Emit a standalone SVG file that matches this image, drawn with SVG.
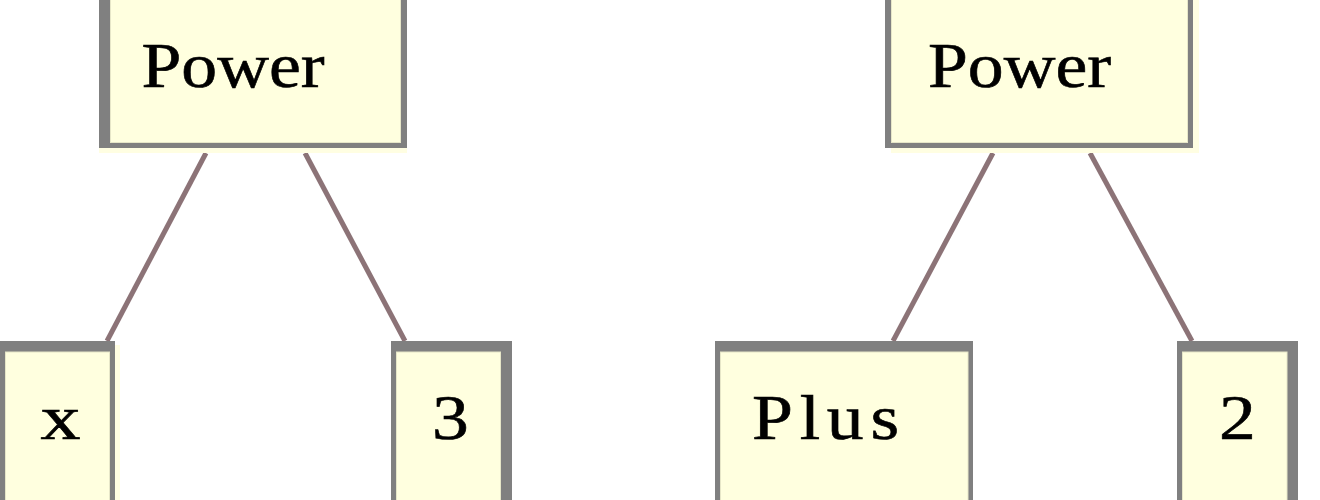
<svg xmlns="http://www.w3.org/2000/svg" width="1320" height="500" viewBox="0 0 1320 500">
<style>
.frame{fill:#808080}
.fill{fill:#ffffdf;stroke:#e6e6c8;stroke-width:1}
.shadow{fill:#fffee2}
.lbl{font-family:"Liberation Serif","Times New Roman",serif;font-size:64px;fill:#000;stroke:#000;stroke-width:0.6;text-anchor:middle}
.edge{stroke:#8c7377;stroke-width:5;fill:none}
</style>
<rect width="1320" height="500" fill="#ffffff"/>
<g id="connectors">
<line class="edge" x1="206" y1="153" x2="107" y2="341"/>
<line class="edge" x1="305" y1="153" x2="405" y2="341"/>
<line class="edge" x1="993" y1="153" x2="893" y2="341"/>
<line class="edge" x1="1090" y1="153" x2="1192" y2="341"/>
</g>
<g id="power1">
<rect class="frame" x="99" y="-10" width="308" height="158"/>
<rect class="fill" x="110.5" y="-10" width="290" height="152.5"/>
<rect class="shadow" x="99" y="148" width="308" height="5"/>
<text class="lbl" transform="translate(233,87) scale(1.12,1)">Power</text>
</g>
<g id="power2">
<rect class="frame" x="885" y="-10" width="308" height="158"/>
<rect class="fill" x="891.5" y="-10" width="296" height="152.5"/>
<rect class="shadow" x="1193" y="-10" width="6" height="163"/>
<rect class="shadow" x="891" y="148" width="308" height="5"/>
<text class="lbl" transform="translate(1019.5,87) scale(1.12,1)">Power</text>
</g>
<g id="leaf-x">
<rect class="frame" x="0" y="341" width="115" height="170"/>
<rect class="fill" x="5.5" y="352" width="104" height="160"/>
<rect class="shadow" x="115" y="345" width="5" height="160"/>
<text class="lbl" transform="translate(60.5,439) scale(1.25,1)">x</text>
</g>
<g id="leaf-3">
<rect class="frame" x="391" y="341" width="121" height="170"/>
<rect class="fill" x="396.5" y="352" width="104" height="160"/>
<text class="lbl" transform="translate(450.5,439) scale(1.15,1)">3</text>
</g>
<g id="plus">
<rect class="frame" x="715" y="341" width="258" height="170"/>
<rect class="fill" x="720.5" y="352" width="247.5" height="160"/>
<text class="lbl" transform="translate(825.5,439) scale(1.15,1)" textLength="128" lengthAdjust="spacing">Plus</text>
</g>
<g id="leaf-2">
<rect class="frame" x="1177" y="341" width="121" height="170"/>
<rect class="fill" x="1182.5" y="352" width="104.5" height="160"/>
<text class="lbl" transform="translate(1237.5,439) scale(1.15,1)">2</text>
</g>
</svg>
